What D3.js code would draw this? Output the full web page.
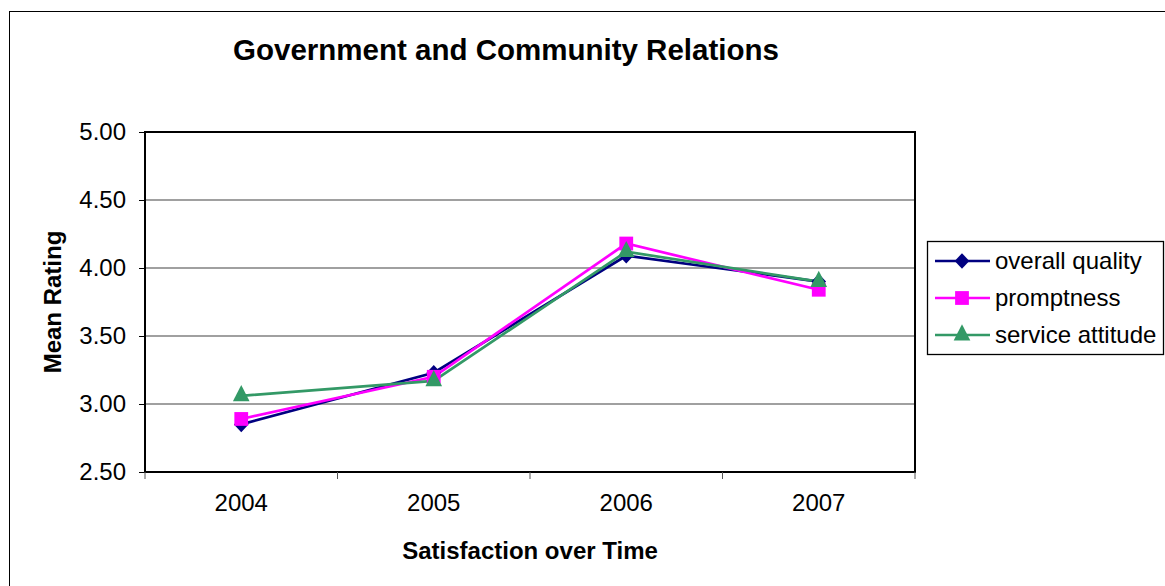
<!DOCTYPE html>
<html><head><meta charset="utf-8">
<script src="https://cdn.jsdelivr.net/npm/d3@7"></script>
<style>body{margin:0;background:#fff}svg{display:block;font-family:"Liberation Sans",Arial,sans-serif}</style>
</head><body>
<svg id="c" width="1165" height="586"></svg>
<script>
const categories = ["2004","2005","2006","2007"];
const overallQuality = [2.85, 3.23, 4.09, 3.90];
const promptness = [2.89, 3.20, 4.18, 3.84];
const serviceAttitude = [3.06, 3.17, 4.12, 3.90];
const seriesNames = ["overall quality","promptness","service attitude"];
const yTicks = [2.5, 3.0, 3.5, 4.0, 4.5, 5.0];

const series = [
  {name: seriesNames[0], values: overallQuality, color: "#000080", sym: d3.symbolDiamond, size: 110, sy: 0.8, sx: 1.3},
  {name: seriesNames[1], values: promptness, color: "#FF00FF", sym: d3.symbolSquare, size: 190, sy: 1, sx: 1},
  {name: seriesNames[2], values: serviceAttitude, color: "#339966", sym: d3.symbolTriangle, size: 120, sy: 1.12, sx: 1}
];

const FF = "Liberation Sans, Arial, sans-serif";
const svg = d3.select("#c");
const L = 145, R = 915, T = 132, B = 472;

svg.append("rect").attr("x",9.5).attr("y",11.5).attr("width",1200).attr("height",700)
  .attr("fill","#fff").attr("stroke","#000").attr("stroke-width",1);

const x = d3.scaleBand().domain(categories).range([L,R]);
const y = d3.scaleLinear().domain([2.5,5]).range([B,T]);

// gridlines
svg.append("g").selectAll("line").data(yTicks.filter(v=>v>2.5 && v<5)).join("line")
  .attr("x1",L).attr("x2",R).attr("y1",d=>y(d)).attr("y2",d=>y(d))
  .attr("stroke","#808080").attr("stroke-width",1.3);

// plot border
svg.append("rect").attr("x",L).attr("y",T).attr("width",R-L).attr("height",B-T)
  .attr("fill","none").attr("stroke","#000").attr("stroke-width",2);

// y axis
const ya = svg.append("g").attr("transform",`translate(${L},0)`)
  .call(d3.axisLeft(y).tickValues(yTicks).tickFormat(d3.format(".2f")).tickSize(6).tickPadding(13));
ya.select(".domain").remove();
ya.selectAll("line").attr("stroke","#000");
ya.selectAll("text").attr("font-size",24).attr("fill","#000").attr("font-family",FF);

// x axis
const xa = svg.append("g").attr("transform",`translate(0,${B})`)
  .call(d3.axisBottom(x).tickSize(0).tickPadding(22));
xa.select(".domain").remove();
xa.selectAll("text").attr("font-size",24).attr("fill","#000").attr("font-family",FF);
const bounds = categories.map(c=>x(c)).concat([R]);
svg.append("g").selectAll("line").data(bounds).join("line")
  .attr("x1",d=>d).attr("x2",d=>d).attr("y1",B).attr("y2",B+7)
  .attr("stroke","#555").attr("stroke-width",1);

const cx = c => x(c) + x.bandwidth()/2;
const line = d3.line().x((d,i)=>cx(categories[i])).y(d=>y(d));

series.forEach(s=>{
  svg.append("path").datum(s.values).attr("d",line)
    .attr("fill","none").attr("stroke",s.color).attr("stroke-width",2.7);
});
series.forEach(s=>{
  svg.append("g").selectAll("path").data(s.values).join("path")
    .attr("d",d3.symbol().type(s.sym).size(s.size))
    .attr("transform",(d,i)=>`translate(${cx(categories[i])},${y(d)}) scale(${s.sx},${s.sy})`)
    .attr("fill",s.color);
});

// titles
svg.append("text").attr("x",506).attr("y",60).attr("text-anchor","middle").attr("font-family",FF)
  .attr("font-size",29.5).attr("font-weight","bold").text("Government and Community Relations");
svg.append("text").attr("x",530).attr("y",559).attr("text-anchor","middle").attr("font-family",FF)
  .attr("font-size",24).attr("font-weight","bold").text("Satisfaction over Time");
svg.append("text").attr("transform","translate(61,302) rotate(-90)").attr("text-anchor","middle").attr("font-family",FF)
  .attr("font-size",24).attr("font-weight","bold").text("Mean Rating");

// legend
const lg = svg.append("g");
lg.append("rect").attr("x",927.5).attr("y",241.5).attr("width",236).attr("height",113)
  .attr("fill","#fff").attr("stroke","#000").attr("stroke-width",1.3);
series.forEach((s,i)=>{
  const yy = 261 + i*37;
  lg.append("line").attr("x1",935).attr("x2",990).attr("y1",yy).attr("y2",yy)
    .attr("stroke",s.color).attr("stroke-width",2.5);
  lg.append("path").attr("d",d3.symbol().type(s.sym).size(s.size)())
    .attr("transform",`translate(962,${yy}) scale(${s.sx},${s.sy})`).attr("fill",s.color);
  lg.append("text").attr("x",995).attr("y",yy+8).attr("font-size",24).attr("font-family",FF).text(s.name);
});
</script>
</body></html>
